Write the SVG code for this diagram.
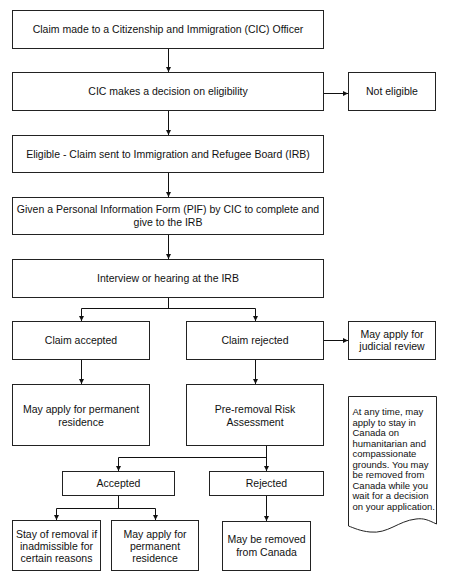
<svg xmlns="http://www.w3.org/2000/svg" width="450" height="582" viewBox="0 0 450 582">
<style>
.box{fill:#fff;stroke:#222;stroke-width:1}
.t{font-family:"Liberation Sans",Arial,sans-serif;font-size:10.5px;fill:#111;text-anchor:middle}
.n{font-family:"Liberation Sans",Arial,sans-serif;font-size:9.5px;fill:#111}
.c{fill:none;stroke:#111;stroke-width:1}
</style>
<defs>
<marker id="ah" markerUnits="userSpaceOnUse" markerWidth="6" markerHeight="6" refX="5" refY="2.5" orient="auto">
<path d="M0,0 L5,2.5 L0,5 z" fill="#111"/>
</marker>
</defs>
<rect width="450" height="582" fill="#fff"/>
<g id="connectors">
<path class="c" d="M168.5,48.5 V72" marker-end="url(#ah)"/>
<path class="c" d="M323.5,93.5 H348" marker-end="url(#ah)"/>
<path class="c" d="M168.5,110.5 V135" marker-end="url(#ah)"/>
<path class="c" d="M168.5,172.5 V197" marker-end="url(#ah)"/>
<path class="c" d="M168.5,234.5 V259" marker-end="url(#ah)"/>
<path class="c" d="M168.5,297.5 V308.5 M81.5,308.5 H255.5"/>
<path class="c" d="M81.5,308.5 V321" marker-end="url(#ah)"/>
<path class="c" d="M255.5,308.5 V321" marker-end="url(#ah)"/>
<path class="c" d="M323.5,340.5 H348" marker-end="url(#ah)"/>
<path class="c" d="M81.5,359.5 V384" marker-end="url(#ah)"/>
<path class="c" d="M255.5,359.5 V384" marker-end="url(#ah)"/>
<path class="c" d="M266.5,445.5 V471" marker-end="url(#ah)"/>
<path class="c" d="M266.5,457.5 H118.5 V471" marker-end="url(#ah)"/>
<path class="c" d="M118.5,495.5 V508.5 M56.5,508.5 H155.5"/>
<path class="c" d="M56.5,508.5 V520" marker-end="url(#ah)"/>
<path class="c" d="M155.5,508.5 V520" marker-end="url(#ah)"/>
<path class="c" d="M266.5,495.5 V521" marker-end="url(#ah)"/>
</g>
<g id="n1"><rect class="box" x="12.5" y="10.5" width="311" height="38"/><text class="t" x="168" y="33">Claim made to a Citizenship and Immigration (CIC) Officer</text></g>
<g id="n2"><rect class="box" x="12.5" y="72.5" width="311" height="38"/><text class="t" x="168" y="95">CIC makes a decision on eligibility</text></g>
<g id="n3"><rect class="box" x="348.5" y="72.5" width="87" height="38"/><text class="t" x="392" y="95">Not eligible</text></g>
<g id="n4"><rect class="box" x="12.5" y="135.5" width="311" height="37"/><text class="t" x="168" y="158">Eligible - Claim sent to Immigration and Refugee Board (IRB)</text></g>
<g id="n5"><rect class="box" x="12.5" y="197.5" width="311" height="37"/><text class="t" x="168" y="213">Given a Personal Information Form (PIF) by CIC to complete and</text><text class="t" x="168" y="226">give to the IRB</text></g>
<g id="n6"><rect class="box" x="12.5" y="259.5" width="311" height="38"/><text class="t" x="168" y="282">Interview or hearing at the IRB</text></g>
<g id="n7"><rect class="box" x="12.5" y="321.5" width="137" height="38"/><text class="t" x="81" y="344">Claim accepted</text></g>
<g id="n8"><rect class="box" x="186.5" y="321.5" width="137" height="38"/><text class="t" x="255" y="344">Claim rejected</text></g>
<g id="n9"><rect class="box" x="348.5" y="321.5" width="87" height="38"/><text class="t" x="392" y="338">May apply for</text><text class="t" x="392" y="350">judicial review</text></g>
<g id="n10"><rect class="box" x="12.5" y="384.5" width="137" height="61"/><text class="t" x="81" y="413">May apply for permanent</text><text class="t" x="81" y="425.5">residence</text></g>
<g id="n11"><rect class="box" x="186.5" y="384.5" width="137" height="61"/><text class="t" x="255" y="413">Pre-removal Risk</text><text class="t" x="255" y="425.5">Assessment</text></g>
<g id="n12"><rect class="box" x="62.5" y="471.5" width="112" height="24"/><text class="t" x="118.5" y="487">Accepted</text></g>
<g id="n13"><rect class="box" x="209.5" y="471.5" width="114" height="24"/><text class="t" x="266.5" y="487">Rejected</text></g>
<g id="n14"><rect class="box" x="12.5" y="520.5" width="88" height="50"/><text class="t" x="56.5" y="538">Stay of removal if</text><text class="t" x="56.5" y="550">inadmissible for</text><text class="t" x="56.5" y="562">certain reasons</text></g>
<g id="n15"><rect class="box" x="111.5" y="520.5" width="87" height="50"/><text class="t" x="155" y="538">May apply for</text><text class="t" x="155" y="550">permanent</text><text class="t" x="155" y="562">residence</text></g>
<g id="n16"><rect class="box" x="222.5" y="521.5" width="88" height="49"/><text class="t" x="266.5" y="543">May be removed</text><text class="t" x="266.5" y="556">from Canada</text></g>
<g id="n17"><path class="box" d="M348.5,396.5 H436.5 V524 C428,520 424,518 416,519 C398,521 388,534 370,532 C360,531 354,528 348.5,526 Z"/>
<text class="n" x="352.5" y="415">At any time, may</text>
<text class="n" x="352.5" y="425.5">apply to stay in</text>
<text class="n" x="352.5" y="436">Canada on</text>
<text class="n" x="352.5" y="446.5">humanitarian and</text>
<text class="n" x="352.5" y="457">compassionate</text>
<text class="n" x="352.5" y="467.5">grounds. You may</text>
<text class="n" x="352.5" y="478">be removed from</text>
<text class="n" x="352.5" y="488.5">Canada while you</text>
<text class="n" x="352.5" y="499">wait for a decision</text>
<text class="n" x="352.5" y="509.5">on your application.</text>
</g>
</svg>
